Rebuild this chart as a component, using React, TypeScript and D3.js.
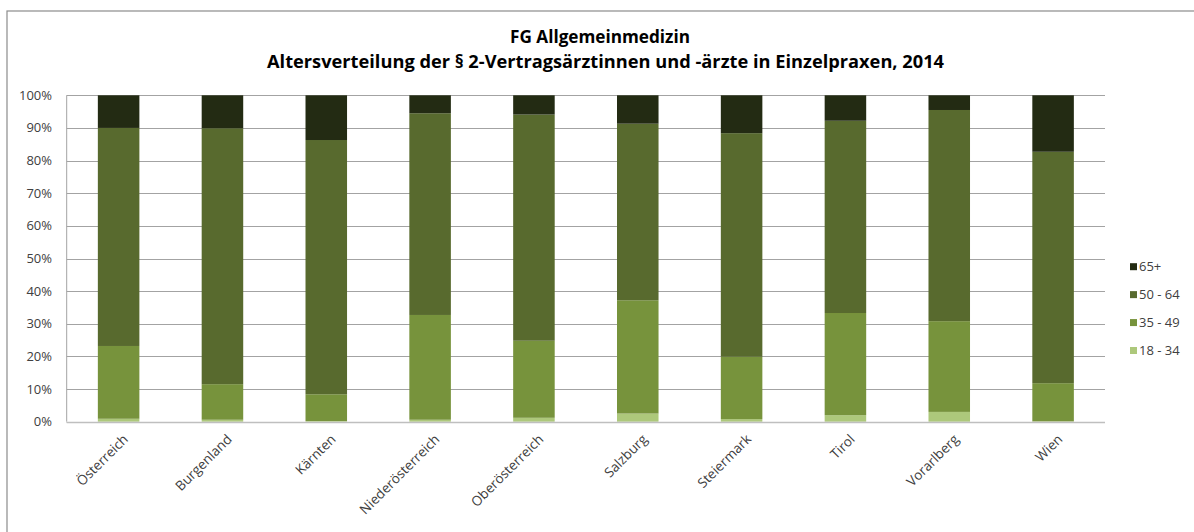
import React from "react";
import * as d3 from "d3";

const categories = ["Österreich", "Burgenland", "Kärnten", "Niederösterreich", "Oberösterreich", "Salzburg", "Steiermark", "Tirol", "Vorarlberg", "Wien"];
const age18_34 = [0.9, 0.6, 0.2, 0.6, 1.2, 2.5, 0.8, 2.0, 3.0, 0.1];
const age35_49 = [22.3, 10.9, 8.2, 32.1, 23.6, 34.7, 19.1, 31.3, 27.8, 11.7];
const age50_64 = [66.8, 78.4, 77.9, 61.8, 69.3, 54.1, 68.5, 58.9, 64.7, 70.9];
const age65plus = [10.0, 10.1, 13.7, 5.5, 5.9, 8.7, 11.6, 7.8, 4.5, 17.3];
const seriesNames = ["18 - 34", "35 - 49", "50 - 64", "65+"];
const seriesColors = ["#adc87b", "#77933c", "#586a2e", "#232b13"];
const yTicks = [0, 0.1, 0.2, 0.3, 0.4, 0.5, 0.6, 0.7, 0.8, 0.9, 1.0];
const titleLine1 = "FG Allgemeinmedizin";
const titleLine2 = "Altersverteilung der § 2-Vertragsärztinnen und -ärzte in Einzelpraxen, 2014";

const W = 1194;
const H = 532;
const FONT = "'Open Sans', 'Liberation Sans', sans-serif";

export default function App() {
  const plotLeft = 66.7;
  const plotRight = 1105;
  const plotTop = 95.3;
  const plotBottom = 421.7;

  const x = d3.scaleBand<string>().domain(categories).range([plotLeft, plotRight]).paddingInner(0.6).paddingOuter(0.3);
  const y = d3.scaleLinear().domain([0, 1]).range([plotBottom, plotTop]);

  const rows = categories.map((c, i) => {
    const vals = [age18_34[i], age35_49[i], age50_64[i], age65plus[i]];
    const total = d3.sum(vals);
    const o: any = { cat: c };
    seriesNames.forEach((s, j) => (o[s] = vals[j] / total));
    return o;
  });
  const stacked = d3.stack().keys(seriesNames)(rows as any);

  const legendOrder = [3, 2, 1, 0];
  const legendY = d3.scalePoint<number>().domain(legendOrder).range([266.7, 350.5]);

  return (
    <svg width={W} height={H} style={{ position: "absolute", left: 0, top: 0, background: "#fff" }} fontFamily={FONT}>
      <rect x={7} y={11} width={W + 20} height={H + 20} fill="#fff" stroke="#8c8c8c" strokeWidth={1.2} />
      <text x={600} y={43} textAnchor="middle" fontSize={17} fontWeight="bold" fill="#000" textLength={180} lengthAdjust="spacingAndGlyphs">{titleLine1}</text>
      <text x={605.5} y={68} textAnchor="middle" fontSize={17} fontWeight="bold" fill="#000" textLength={677} lengthAdjust="spacingAndGlyphs">{titleLine2}</text>

      {yTicks.map((t) => (
        <g key={t}>
          <line x1={plotLeft} x2={plotRight} y1={Math.round(y(t)) + 0.5} y2={Math.round(y(t)) + 0.5} stroke="#a3a3a3" strokeWidth={1} />
          <text x={52} y={y(t)} dy="0.35em" textAnchor="end" fontSize={13} fill="#404040">{d3.format(".0%")(t)}</text>
        </g>
      ))}
      <line x1={plotLeft} x2={plotLeft} y1={plotTop} y2={plotBottom} stroke="#a3a3a3" strokeWidth={1} />

      {stacked.map((layer, j) => (
        <g key={layer.key} fill={seriesColors[j]}>
          {layer.map((d, i) => (
            <rect key={i} x={x(categories[i])} width={x.bandwidth()} y={y(d[1])} height={Math.max(0, y(d[0]) - y(d[1]))} />
          ))}
        </g>
      ))}
      <line x1={plotLeft} x2={plotRight} y1={Math.round(plotBottom) + 0.5} y2={Math.round(plotBottom) + 0.5} stroke="#bfbfbf" strokeWidth={1.5} />

      {categories.map((c) => {
        const cx = (x(c) as number) + x.bandwidth() / 2;
        return (
          <text key={c} transform={`translate(${cx + 7},${plotBottom + 15}) rotate(-45)`} textAnchor="end" dy="0.35em" fontSize={13.5} fill="#404040">{c}</text>
        );
      })}

      {legendOrder.map((j) => (
        <g key={j} transform={`translate(1130,${legendY(j)})`}>
          <rect x={0} y={-3.5} width={7} height={7} fill={seriesColors[j]} />
          <text x={9} y={0} dy="0.35em" fontSize={13} fill="#404040">{seriesNames[j]}</text>
        </g>
      ))}
    </svg>
  );
}
